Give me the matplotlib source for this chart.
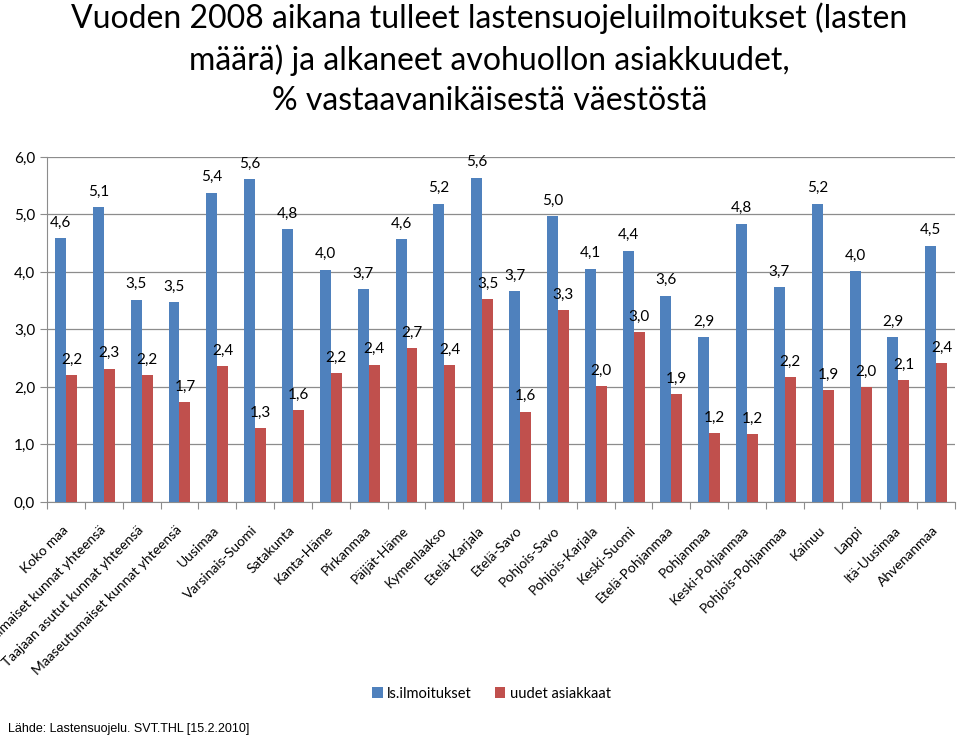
import matplotlib.pyplot as plt
import matplotlib.transforms as mtransforms
import numpy as np

categories = ['Koko maa', 'Kaupunkimaiset kunnat yhteensä', 'Taajaan asutut kunnat yhteensä',
              'Maaseutumaiset kunnat yhteensä', 'Uusimaa', 'Varsinais-Suomi', 'Satakunta',
              'Kanta-Häme', 'Pirkanmaa', 'Päijät-Häme', 'Kymenlaakso', 'Etelä-Karjala',
              'Etelä-Savo', 'Pohjois-Savo', 'Pohjois-Karjala', 'Keski-Suomi', 'Etelä-Pohjanmaa',
              'Pohjanmaa', 'Keski-Pohjanmaa', 'Pohjois-Pohjanmaa', 'Kainuu', 'Lappi',
              'Itä-Uusimaa', 'Ahvenanmaa']
ls_ilmoitukset = [4.59, 5.13, 3.52, 3.48, 5.38, 5.61, 4.75, 4.04, 3.70, 4.57, 5.19, 5.64,
                  3.66, 4.97, 4.06, 4.37, 3.59, 2.87, 4.84, 3.73, 5.19, 4.02, 2.87, 4.46]
uudet_asiakkaat = [2.20, 2.32, 2.21, 1.73, 2.36, 1.28, 1.60, 2.24, 2.39, 2.67, 2.38, 3.53,
                   1.57, 3.33, 2.02, 2.96, 1.88, 1.19, 1.18, 2.17, 1.95, 2.00, 2.12, 2.41]

label_font = 'Lato'
fig = plt.figure(figsize=(9.6, 7.37), dpi=100)
ax = fig.add_axes([0.049, 0.319, 0.946, 0.468])

x = np.arange(len(categories))
w = 0.29
b1 = ax.bar(x - w / 2, ls_ilmoitukset, w, color='#4F81BD', label='ls.ilmoitukset', zorder=3)
b2 = ax.bar(x + w / 2, uudet_asiakkaat, w, color='#C0504D', label='uudet asiakkaat', zorder=3)

for bars, vals in ((b1, ls_ilmoitukset), (b2, uudet_asiakkaat)):
    for r, v in zip(bars, vals):
        ax.annotate(('%.1f' % v).replace('.', ','), (r.get_x() + r.get_width() / 2, v),
                    xytext=(0, 6), textcoords='offset points', ha='center', va='bottom',
                    fontsize=11, family=label_font)

ax.set_xlim(-0.5, len(categories) - 0.5)
ax.set_ylim(0, 6)
ax.set_yticks(np.arange(0, 6.1, 1))
ax.set_yticklabels([('%.1f' % t).replace('.', ',') for t in np.arange(0, 6.1, 1)],
                   family=label_font, fontsize=11)
ax.yaxis.grid(True, color='#8c8c8c', linewidth=0.9, zorder=0)
ax.set_xticks(np.arange(len(categories) + 1) - 0.5)
ax.set_xticklabels([])
ax.set_xticks(x, minor=True)
ax.set_xticklabels(categories, minor=True, rotation=45, ha='right', va='center',
                   rotation_mode='anchor', family=label_font, fontsize=10)
shift = mtransforms.ScaledTranslation(6 / 72, 0, fig.dpi_scale_trans)
for t in ax.get_xticklabels(minor=True):
    t.set_transform(t.get_transform() + shift)
ax.tick_params(axis='x', which='minor', length=0, pad=19)
ax.tick_params(axis='x', which='major', length=5, color='#8c8c8c')
ax.tick_params(axis='y', length=5, color='#8c8c8c')
for s in ('top', 'right'):
    ax.spines[s].set_visible(False)
for s in ('left', 'bottom'):
    ax.spines[s].set_color('#8c8c8c')

fig.legend(loc='center', bbox_to_anchor=(0.512, 0.059), ncol=2, frameon=False,
           prop={'family': label_font, 'size': 10.5}, handlelength=0.7, handleheight=0.7,
           handletextpad=0.3, columnspacing=1.6)

fig.text(0.51, 0.997, 'Vuoden 2008 aikana tulleet lastensuojeluilmoitukset (lasten\n'
         'määrä) ja alkaneet avohuollon asiakkuudet,\n% vastaavanikäisestä väestöstä',
         ha='center', va='top', fontsize=23, family='Lato', linespacing=1.42)
fig.text(0.008, 0.007, 'Lähde: Lastensuojelu. SVT.THL [15.2.2010]', fontsize=9,
         family='Liberation Sans')

plt.savefig('out.png')
